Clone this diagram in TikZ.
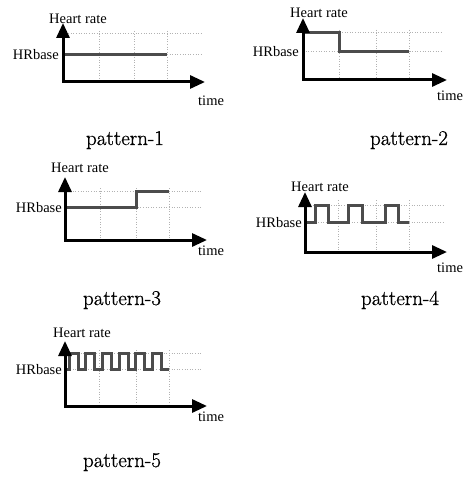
\documentclass[tikz,border=0pt]{standalone}
\usepackage{fontspec}
\setmainfont{Liberation Serif}
\newfontfamily\patfont[FakeBold=0.8]{Latin Modern Roman}
\usetikzlibrary{arrows.meta}
\tikzset{
  axisline/.style={line width=3pt,line join=miter,
    {Triangle[length=15pt,width=13pt]}-{Triangle[length=15pt,width=13pt]}},
  gridline/.style={gray!60,line width=1pt,dash pattern=on 1pt off 1.6pt},
  hrline/.style={black!70,line width=3pt,line join=miter},
  lab/.style={font=\fontsize{14.5}{15}\selectfont,inner sep=0pt},
  pat/.style={font=\patfont\fontsize{21}{21}\selectfont,inner sep=0pt,anchor=base}
}
\begin{document}
\begin{tikzpicture}[x=1pt,y=-1pt]
\fill[white] (0,0) rectangle (472,478);
\useasboundingbox (0,0) rectangle (472,478);

% ---------- pattern 1 ----------
\coordinate (o1) at (63,82); \coordinate (t1) at (63,23); \coordinate (e1) at (205,82);
\draw[gridline] (63,34) -- (202,34);
\draw[gridline] (167,55) -- (202,55);
\foreach \x in {99,134,167} \draw[gridline] (\x,31) -- (\x,82);
\draw[hrline] (63,55) -- (167,55);
\draw[axisline] (t1) -- (o1) -- (e1);
\node[lab,anchor=base west] (hr1) at (49,24) {Heart rate};
\node[lab,anchor=base east] (hb1) at (59,60) {HRbase};
\node[lab,anchor=base west] (ti1) at (198,106) {time};
\node[pat] (p1) at (125,145) {pattern-1};

% ---------- pattern 2 ----------
\coordinate (o2) at (303,80); \coordinate (t2) at (303,18); \coordinate (e2) at (447,80);
\draw[gridline] (303,33) -- (443,33);
\draw[gridline] (303,52) -- (443,52);
\foreach \x in {339,376,409} \draw[gridline] (\x,30) -- (\x,80);
\draw[hrline] (303,33) -- (339,33) -- (339,52) -- (409,52);
\draw[axisline] (t2) -- (o2) -- (e2);
\node[lab,anchor=base west] (hr2) at (290,18) {Heart rate};
\node[lab,anchor=base east] (hb2) at (299,57) {HRbase};
\node[lab,anchor=base west] (ti2) at (437,101) {time};
\node[pat] (p2) at (409,145) {pattern-2};

% ---------- pattern 3 ----------
\coordinate (o3) at (65,240); \coordinate (t3) at (65,177); \coordinate (e3) at (207,240);
\draw[gridline] (65,191) -- (202,191);
\draw[gridline] (65,207) -- (202,207);
\foreach \x in {100,136,169} \draw[gridline] (\x,188) -- (\x,240);
\draw[hrline] (65,207) -- (136,207) -- (136,191) -- (169,191);
\draw[axisline] (t3) -- (o3) -- (e3);
\node[lab,anchor=base west] (hr3) at (51,173) {Heart rate};
\node[lab,anchor=base east] (hb3) at (62,212) {HRbase};
\node[lab,anchor=base west] (ti3) at (198,255) {time};
\node[pat] (p3) at (122,305) {pattern-3};

% ---------- pattern 4 ----------
\coordinate (o4) at (305,252); \coordinate (t4) at (305,192); \coordinate (e4) at (447,252);
\draw[gridline] (305,205) -- (443,205);
\draw[gridline] (305,222) -- (443,222);
\foreach \x in {338,376,409} \draw[gridline] (\x,200) -- (\x,252);
\draw[hrline] (305,222) -- (315,222) -- (315,205) -- (328,205) -- (328,222)
  -- (348,222) -- (348,205) -- (362,205) -- (362,222)
  -- (385,222) -- (385,205) -- (398,205) -- (398,222) -- (409,222);
\draw[axisline] (t4) -- (o4) -- (e4);
\node[lab,anchor=base west] (hr4) at (291,191) {Heart rate};
\node[lab,anchor=base east] (hb4) at (302,227) {HRbase};
\node[lab,anchor=base west] (ti4) at (437,272) {time};
\node[pat] (p4) at (400,305) {pattern-4};

% ---------- pattern 5 ----------
\coordinate (o5) at (65,406); \coordinate (t5) at (65,341); \coordinate (e5) at (207,406);
\draw[gridline] (65,353) -- (202,353);
\draw[gridline] (65,369) -- (202,369);
\foreach \x in {99,136,169} \draw[gridline] (\x,350) -- (\x,406);
\draw[hrline] (65,369) -- (69,369)
  \foreach \k in {0,...,5} { -- ({69+16.7*\k},369) -- ({69+16.7*\k},353)
     -- ({78+16.7*\k},353) -- ({78+16.7*\k},369) } -- (169,369);
\draw[axisline] (t5) -- (o5) -- (e5);
\node[lab,anchor=base west] (hr5) at (53,337) {Heart rate};
\node[lab,anchor=base east] (hb5) at (62,374) {HRbase};
\node[lab,anchor=base west] (ti5) at (198,421) {time};
\node[pat] (p5) at (122,467) {pattern-5};
\end{tikzpicture}
\end{document}
